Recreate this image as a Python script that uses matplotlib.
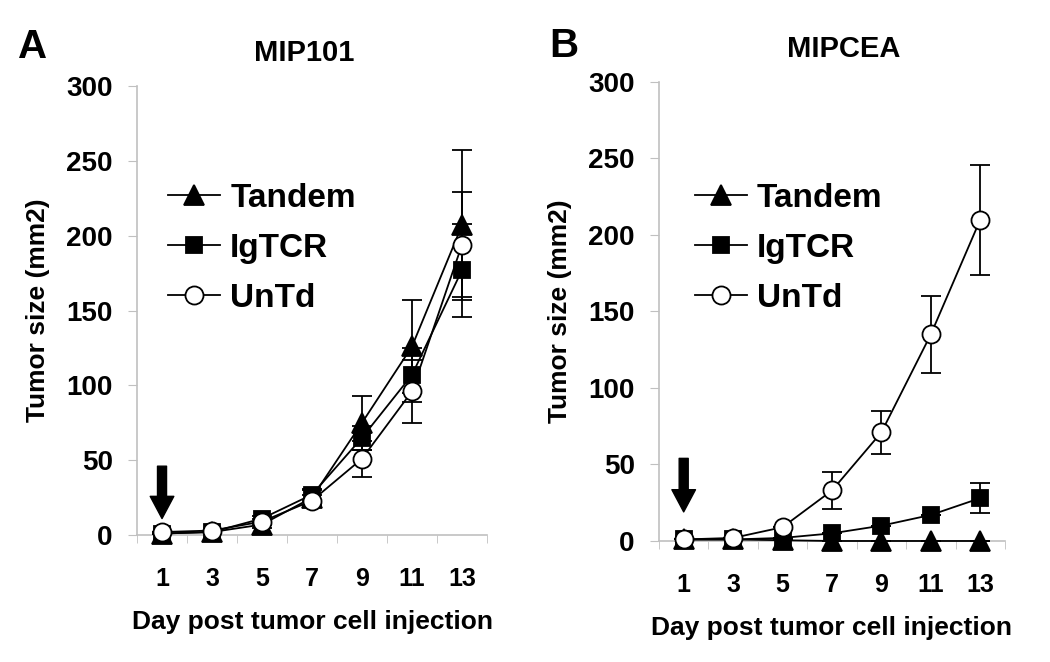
import matplotlib.pyplot as plt

plt.rcParams['font.family'] = ['Liberation Sans', 'DejaVu Sans']
plt.rcParams['font.weight'] = 'bold'

days = [1, 3, 5, 7, 9, 11, 13]

# panel A: MIP101
a_tandem = [1, 2, 7, 25, 75, 126, 207]
a_tandem_err = [0, 0, 2, 5, 18, 31, 50]
a_igtcr = [1, 2, 11, 27, 65, 107, 177]
a_igtcr_err = [0, 0, 2, 4, 8, 18, 31]
a_untd = [2, 3, 9, 23, 51, 96, 194]
a_untd_err = [0, 0, 2, 4, 12, 21, 35]

# panel B: MIPCEA
b_tandem = [1, 1, 0.5, 0, 0, 0, 0]
b_tandem_err = [0, 0, 0, 0, 0, 0, 0]
b_igtcr = [1, 1, 2, 5, 10, 17, 28]
b_igtcr_err = [0, 0, 0, 0, 0, 0, 10]
b_untd = [1, 2, 9, 33, 71, 135, 210]
b_untd_err = [0, 0, 0, 12, 14, 25, 36]

series_names = ['Tandem', 'IgTCR', 'UnTd']
markers = ['^', 's', 'o']
msizes = [14, 12, 13]
faces = ['black', 'black', 'white']
grey = '#c0c0c0'


def panel(ax, ys, errs, arrow, leg_anchor):
    x = list(range(len(days)))
    handles = []
    for y, e, name, m, ms, fc in zip(ys, errs, series_names, markers, msizes, faces):
        c = ax.errorbar(x, y, yerr=e, color='black', lw=1.3, marker=m, ms=ms,
                        mfc=fc, mec='black', mew=1.3, capsize=7, capthick=1.3,
                        elinewidth=1.3, label=name, clip_on=False, zorder=3)
        handles.append(c[0])
    ax.set_xlim(-0.5, 6.5)
    ax.set_ylim(0, 300)
    ax.set_yticks(range(0, 301, 50))
    ax.set_xticks(x)
    ax.set_xticklabels([str(d) for d in days])
    ax.set_xticks([i - 0.5 for i in range(8)], minor=True)
    ax.tick_params(axis='x', which='major', length=0, pad=23, labelsize=18)
    ax.tick_params(axis='x', which='minor', length=6, color=grey, direction='out')
    ax.tick_params(axis='y', length=6.5, color=grey, labelsize=20, pad=11)
    for s in ['top', 'right']:
        ax.spines[s].set_visible(False)
    for s in ['left', 'bottom']:
        ax.spines[s].set_color(grey)
        ax.spines[s].set_linewidth(1.2)
    ax.set_ylabel('Tumor size (mm2)', fontsize=19, fontweight='bold', labelpad=12)
    ax.set_xlabel('Day post tumor cell injection', fontsize=19, fontweight='bold', labelpad=14)
    ax.annotate('', xy=(0, arrow[1]), xytext=(0, arrow[0]),
                arrowprops=dict(facecolor='black', edgecolor='black', width=6.5,
                                headwidth=17, headlength=16))
    ax.legend(handles=handles, labels=series_names, loc='upper left',
              bbox_to_anchor=leg_anchor, frameon=False, borderpad=0, borderaxespad=0,
              prop={'size': 24, 'weight': 'bold'}, handlelength=1.56,
              labelspacing=0.57, handletextpad=0.3)


fig = plt.figure(figsize=(10.5, 6.62), dpi=100)
ax1 = fig.add_axes([0.1305, 0.1918, 0.3333, 0.6782])
ax2 = fig.add_axes([0.6276, 0.1828, 0.3295, 0.6934])

panel(ax1, [a_tandem, a_igtcr, a_untd], [a_tandem_err, a_igtcr_err, a_untd_err],
      (46, 11), (0.089, 0.784))
panel(ax2, [b_tandem, b_igtcr, b_untd], [b_tandem_err, b_igtcr_err, b_untd_err],
      (54, 19), (0.104, 0.78))

fig.text(304 / 1050, 1 - 61 / 662, 'MIP101', fontsize=21, fontweight='bold',
         ha='center', va='baseline')
fig.text(844 / 1050, 1 - 57 / 662, 'MIPCEA', fontsize=21, fontweight='bold',
         ha='center', va='baseline')
fig.text(18 / 1050, 1 - 58 / 662, 'A', fontsize=29, fontweight='bold', va='baseline')
fig.text(549 / 1050, 1 - 57 / 662, 'B', fontsize=29, fontweight='bold', va='baseline')

fig.savefig('out.png', dpi=100)
